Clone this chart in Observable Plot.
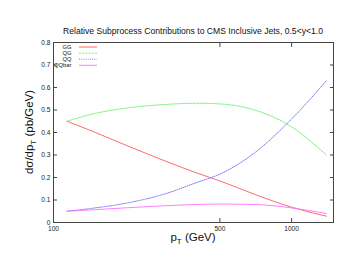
<!DOCTYPE html>
<html><head><meta charset="utf-8">
<script src="https://cdn.jsdelivr.net/npm/d3@7"></script>
<script src="https://cdn.jsdelivr.net/npm/@observablehq/plot@0.6"></script>
<style>body{margin:0;background:#fff}svg{font-family:"Liberation Sans",Arial,sans-serif}</style>
</head><body><div id="chart"></div>
<script>
const pT   = [114, 150, 200, 300, 400, 500, 700, 1000, 1400];
const GG   = [0.45, 0.40, 0.345, 0.27, 0.22, 0.185, 0.125, 0.068, 0.028];
const QG   = [0.45, 0.485, 0.508, 0.525, 0.53, 0.527, 0.50, 0.425, 0.30];
const QQ   = [0.05, 0.065, 0.085, 0.13, 0.178, 0.215, 0.31, 0.46, 0.63];
const QQbar= [0.05, 0.057, 0.065, 0.075, 0.08, 0.082, 0.08, 0.065, 0.04];
const seriesNames = ["GG","QG","QQ","QQbar"];
const colors = ["#ff5a5a","#66ee66","#6a6aff","#ff70ff"];
const dashes = [null,"2,1.2","1,1.2",null];
const xTicks = [100, 500, 1000];
const yTicks = [0,0.1,0.2,0.3,0.4,0.5,0.6,0.7,0.8];

const all = [GG,QG,QQ,QQbar];
const lineMarks = all.map((vals,i)=>Plot.line(pT.map((p,j)=>({x:p,y:vals[j]})),
  {x:"x",y:"y",stroke:colors[i],strokeWidth:0.9,strokeDasharray:dashes[i],curve:"monotone-x"}));

const ML=53, MR=21, MT=42, MB=52;
const chart = Plot.plot({
  width:354, height:274,
  marginLeft:ML, marginRight:MR, marginTop:MT, marginBottom:MB,
  style:{fontSize:"6.6px", fontFamily:"Liberation Sans, Arial, sans-serif", color:"#222"},
  x:{type:"log", domain:[100,1500]},
  y:{domain:[0,0.8]},
  marks:[
    Plot.frame({stroke:"#444", strokeWidth:1}),
    Plot.axisX({anchor:"bottom", ticks:xTicks, tickSize:-4, tickPadding:8, tickFormat:d=>String(d), label:null, stroke:"#444"}),
    Plot.axisX({anchor:"top", ticks:xTicks, tickSize:-4, text:null, label:null, stroke:"#444"}),
    Plot.axisY({anchor:"left", ticks:yTicks, tickSize:-4, tickPadding:7, tickFormat:d=>d===0?"0":String(d), label:null, stroke:"#444"}),
    Plot.axisY({anchor:"right", ticks:yTicks, tickSize:-4, text:null, label:null, stroke:"#444"}),
    ...lineMarks
  ]
});
document.getElementById("chart").appendChild(chart);
const svg = d3.select(chart);
const W=354, H=274;
// title
svg.append("text").attr("x",(ML+W-MR)/2).attr("y",34).attr("text-anchor","middle")
  .attr("font-size","8.6px").attr("fill","#111")
  .text("Relative Subprocess Contributions to CMS Inclusive Jets, 0.5<y<1.0");
// x label
const xl = svg.append("text").attr("x",(ML+W-MR)/2).attr("y",241).attr("text-anchor","middle")
  .attr("font-size","11.5px").attr("fill","#111");
xl.append("tspan").text("p");
xl.append("tspan").attr("font-size","8px").attr("dy","3").text("T");
xl.append("tspan").attr("dy","-3").text(" (GeV)");
// y label
const yl = svg.append("text").attr("transform",`translate(33,${(MT+H-MB)/2}) rotate(-90)`)
  .attr("text-anchor","middle").attr("font-size","11.5px").attr("fill","#111");
yl.append("tspan").text("dσ/dp");
yl.append("tspan").attr("font-size","8px").attr("dy","3").text("T");
yl.append("tspan").attr("dy","-3").text(" (pb/GeV)");
// legend
seriesNames.forEach((n,i)=>{
  const y = 47 + i*6.1;
  svg.append("text").attr("x",71.5).attr("y",y+2).attr("text-anchor","end")
    .attr("font-size","5.8px").attr("fill","#111").text(n);
  svg.append("line").attr("x1",79).attr("x2",97).attr("y1",y).attr("y2",y)
    .attr("stroke",colors[i]).attr("stroke-width",0.9).attr("stroke-dasharray",dashes[i]);
});
</script></body></html>
